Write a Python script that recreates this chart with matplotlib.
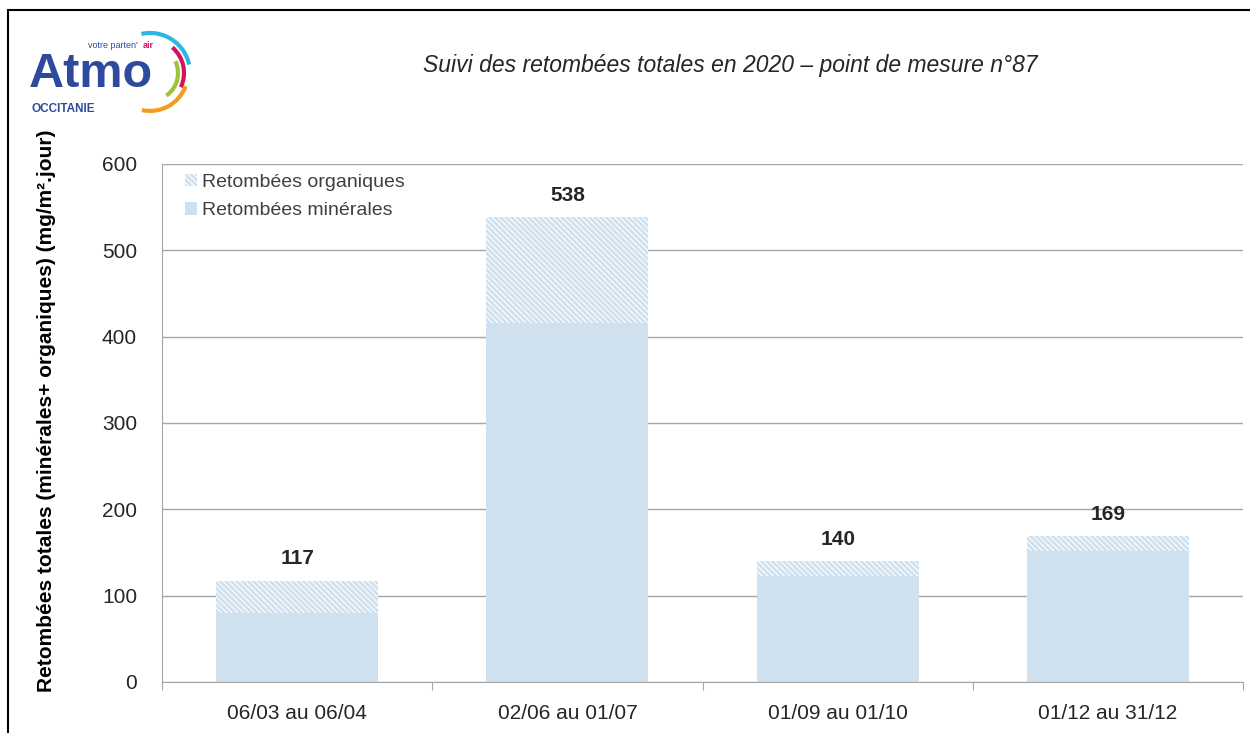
import matplotlib.pyplot as plt
import matplotlib
from matplotlib.patches import Arc, Rectangle

matplotlib.rcParams['font.family'] = ['Liberation Sans', 'DejaVu Sans']
matplotlib.rcParams['hatch.linewidth'] = 2.0

periodes = ['06/03 au 06/04', '02/06 au 01/07', '01/09 au 01/10', '01/12 au 31/12']
minerales = [80, 416, 123, 152]
totales = [117, 538, 140, 169]
organiques = [t - m for t, m in zip(totales, minerales)]

bleu = '#cfe0ef'

fig = plt.figure(figsize=(12.5, 7.33), dpi=100)
ax = fig.add_axes([0.1296, 0.0696, 0.8648, 0.7067])

x = range(len(periodes))
ax.bar(x, minerales, width=0.6, color=bleu, label='Retombées minérales', zorder=2)
ax.bar(x, organiques, width=0.6, bottom=minerales, facecolor='white', edgecolor=bleu,
       hatch='\\\\\\\\\\\\', linewidth=0, label='Retombées organiques', zorder=2)
for i, t in enumerate(totales):
    ax.annotate(str(t), (i, t), xytext=(0, 9), textcoords='offset points',
                ha='center', va='bottom', fontsize=15, fontweight='bold', color='#262626')

ax.set_xlim(-0.5, len(periodes) - 0.5)
ax.set_ylim(0, 600)
ax.set_yticks(range(0, 601, 100))
ax.yaxis.grid(True, color='#a6a6a6', linewidth=1, zorder=0)
ax.set_axisbelow(True)
ax.set_xticks([i - 0.5 for i in range(len(periodes) + 1)], minor=False)
ax.set_xticklabels([])
ax.set_xticks(list(x), minor=True)
ax.set_xticklabels(periodes, minor=True)
ax.tick_params(axis='x', which='major', length=6, color='#a6a6a6')
ax.tick_params(axis='x', which='minor', length=0, pad=16, labelsize=15, labelcolor='#262626')
ax.tick_params(axis='y', length=0, pad=18, labelsize=15, labelcolor='#262626')
for s in ['top', 'right']:
    ax.spines[s].set_visible(False)
ax.spines['left'].set_color('#a6a6a6')
ax.spines['bottom'].set_color('#a6a6a6')
ax.set_ylabel('Retombées totales (minérales+ organiques) (mg/m².jour)',
              fontsize=15, fontweight='bold')
ax.yaxis.set_label_coords(-0.098, 0.523)

h, l = ax.get_legend_handles_labels()
ax.legend(h[::-1], l[::-1], loc='upper left', bbox_to_anchor=(0.005, 1.015), frameon=False,
          fontsize=14, handlelength=0.6, handleheight=0.6, handletextpad=0.3,
          labelspacing=0.6, labelcolor='#404040')

fig.text(0.584, 0.91, 'Suivi des retombées totales en 2020 \u2013 point de mesure n°87',
         ha='center', va='center', fontsize=16.5, style='italic', color='#262626')

# cadre
fig.patches.append(Rectangle((8 / 1250, -0.05), 1.1, 1 - 10 / 733 + 0.05, transform=fig.transFigure,
                             fill=False, edgecolor='black', linewidth=1.5))

# logo
lg = fig.add_axes([0.02, 0.835, 0.15, 0.135])
lg.set_xlim(0, 150)
lg.set_ylim(0, 99)
lg.axis('off')
lg.text(3, 46, 'Atmo', fontsize=35, fontweight='bold', color='#2e4a9c', va='center')
lg.text(5, 12, 'OCCITANIE', fontsize=8.5, fontweight='bold', color='#2e4a9c', va='center')
lg.text(50, 75, "votre parten'", fontsize=6.5, color='#2e4a9c', va='center')
lg.text(94, 75, 'air', fontsize=6.5, fontweight='bold', color='#d4145a', va='center')
for r, c, t1, t2 in [(40, '#2bb7e3', 15, 100), (34, '#d4145a', -30, 55),
                     (28, '#9ec33a', -60, 30), (38, '#f39c1e', -100, -25)]:
    lg.add_patch(Arc((100, 48), r * 1.6, r * 2, theta1=t1, theta2=t2, color=c, linewidth=3))

fig.savefig('out.png', dpi=100)
